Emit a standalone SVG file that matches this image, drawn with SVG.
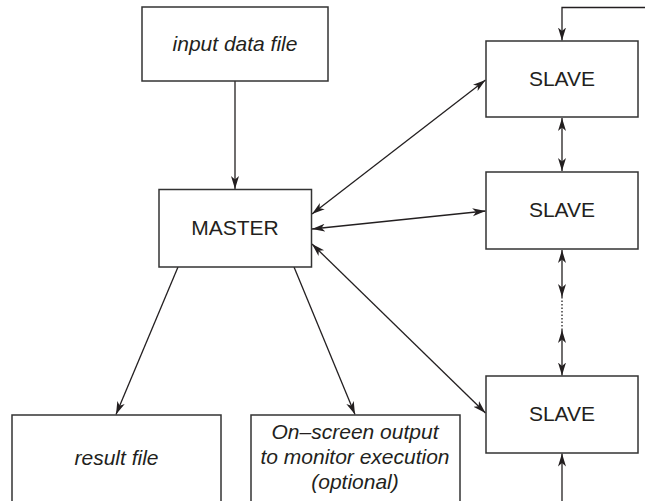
<svg xmlns="http://www.w3.org/2000/svg" width="645" height="501" viewBox="0 0 645 501">
<style>
.box{fill:#fff;stroke:#333;stroke-width:1.5}
.t{font-family:"Liberation Sans",Arial,Helvetica,sans-serif;font-size:21px;fill:#231f20;text-anchor:middle}
.i{font-style:italic}
.c{fill:none;stroke:#231f20;stroke-width:1.3}
.a{marker-end:url(#ah)}
.d{marker-start:url(#ah);marker-end:url(#ah)}
</style>
<defs>
<marker id="ah" markerUnits="userSpaceOnUse" markerWidth="14" markerHeight="10" viewBox="0 0 14 10" refX="13" refY="5" orient="auto-start-reverse">
<path d="M0,1 L13,5 L0,9 L3.5,5 Z" fill="#231f20"/>
</marker>
</defs>
<rect width="645" height="501" fill="#fff"/>
<g id="connectors">
<line class="c a" x1="235" y1="81" x2="235" y2="189"/>
<line class="c d" x1="312" y1="214" x2="485.5" y2="80"/>
<line class="c d" x1="312" y1="229" x2="485.5" y2="211"/>
<line class="c d" x1="312" y1="244" x2="485.5" y2="413"/>
<line class="c a" x1="178" y1="267" x2="116" y2="414.5"/>
<line class="c a" x1="294" y1="267" x2="355" y2="414.5"/>
<line class="c d" x1="562" y1="118" x2="562" y2="171"/>
<line class="c d" x1="562" y1="250" x2="562" y2="297"/>
<line class="c" x1="562" y1="297" x2="562" y2="330" stroke-dasharray="1.5 2"/>
<line class="c d" x1="562" y1="330" x2="562" y2="375.5"/>
<line class="c a" x1="562" y1="505" x2="562" y2="453.5"/>
<polyline class="c a" points="648,7.5 562,7.5 562,40.5"/>
</g>
<g id="input">
<rect class="box" x="142" y="7" width="186" height="74"/>
<text class="t i" x="235" y="51">input data file</text>
</g>
<g id="master">
<rect class="box" x="159" y="189.5" width="152.5" height="77.5"/>
<text class="t" x="235" y="235">MASTER</text>
</g>
<g id="slave1">
<rect class="box" x="486" y="41" width="152" height="76"/>
<text class="t" x="562" y="86">SLAVE</text>
</g>
<g id="slave2">
<rect class="box" x="486" y="172" width="152" height="77"/>
<text class="t" x="562" y="217">SLAVE</text>
</g>
<g id="slave3">
<rect class="box" x="486" y="376" width="152" height="77"/>
<text class="t" x="562" y="421">SLAVE</text>
</g>
<g id="result">
<rect class="box" x="12" y="415" width="209" height="110"/>
<text class="t i" x="116.5" y="465">result file</text>
</g>
<g id="onscreen">
<rect class="box" x="251" y="415" width="209" height="110"/>
<text class="t i" x="355" y="439">On–screen output</text>
<text class="t i" x="355" y="464">to monitor execution</text>
<text class="t i" x="355" y="489">(optional)</text>
</g>
</svg>
